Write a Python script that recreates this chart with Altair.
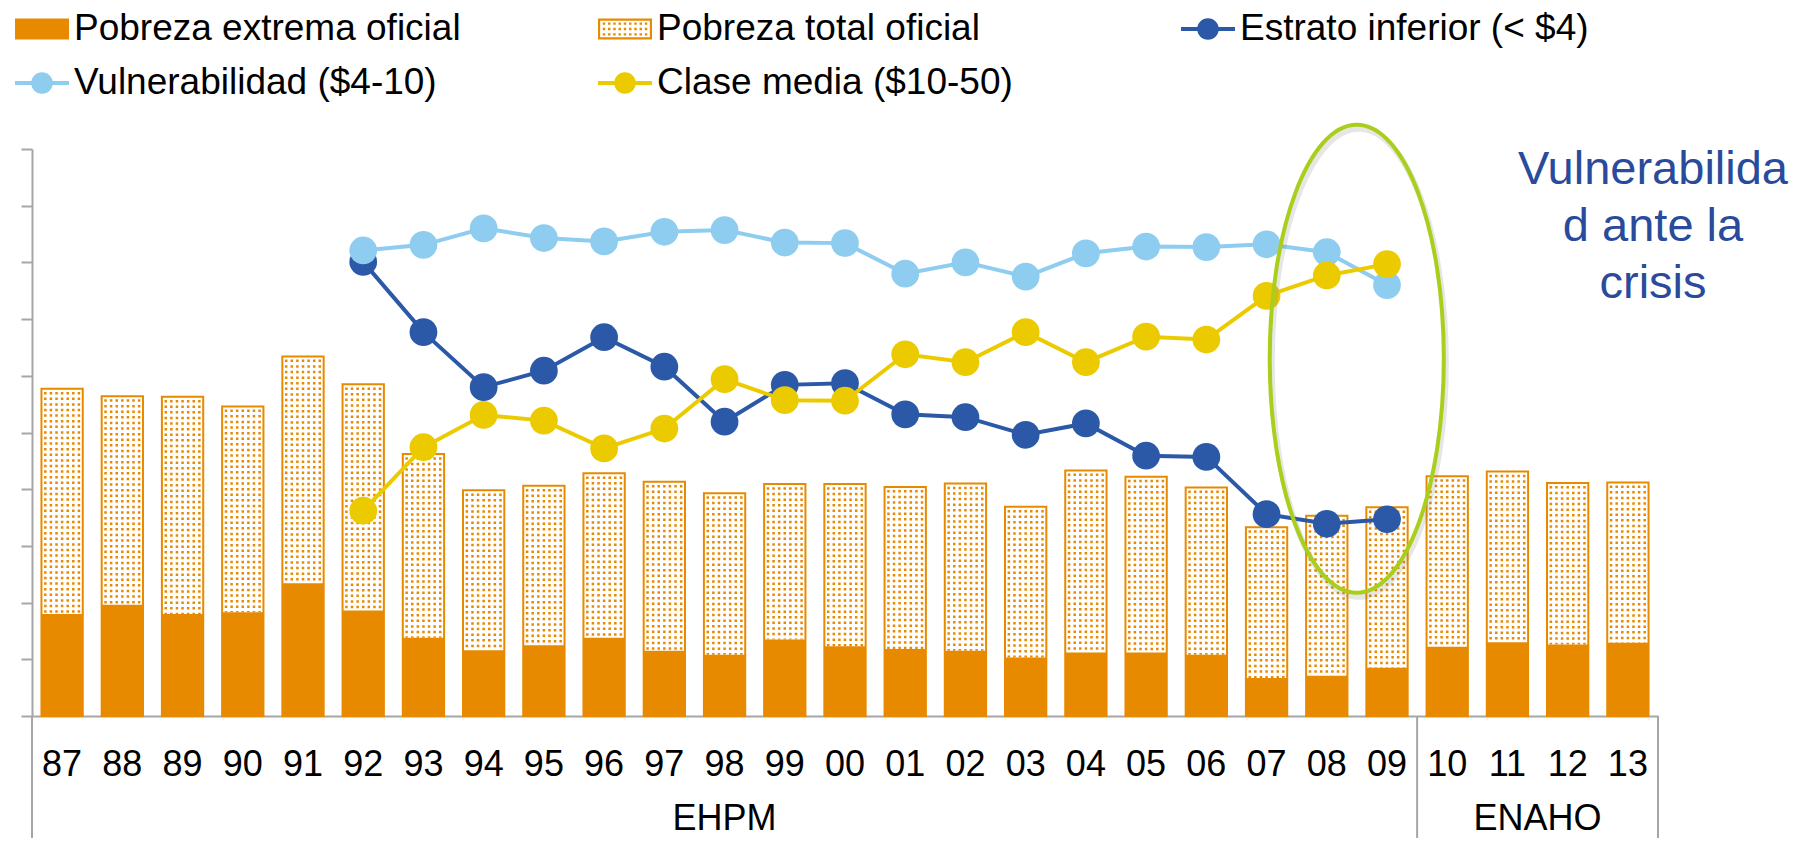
import altair as alt
import pandas as pd

# ---------------- data ----------------
years = ["87", "88", "89", "90", "91", "92", "93", "94", "95", "96", "97", "98", "99",
         "00", "01", "02", "03", "04", "05", "06", "07", "08", "09", "10", "11", "12", "13"]
pobreza_extrema = [18.0, 19.6, 18.0, 18.3, 23.4, 18.6, 13.8, 11.6, 12.5, 13.8, 11.5, 10.8, 13.5,
                   12.3, 11.8, 11.5, 10.3, 11.2, 11.2, 10.8, 6.7, 7.1, 8.5, 12.2, 13.0, 12.6, 12.9]
pobreza_total = [57.7, 56.4, 56.3, 54.6, 63.4, 58.5, 46.2, 39.8, 40.6, 42.8, 41.3, 39.3, 40.9,
                 40.9, 40.4, 41.0, 36.9, 43.3, 42.2, 40.3, 33.3, 35.3, 36.8, 42.3, 43.1, 41.1, 41.2]

line_years = ["92", "93", "94", "95", "96", "97", "98", "99", "00", "01", "02", "03", "04",
              "05", "06", "07", "08", "09"]
estrato_inferior = [80.1, 67.7, 58.0, 60.9, 66.8, 61.6, 51.9, 58.4, 58.7, 53.2, 52.7, 49.6, 51.6,
                    45.9, 45.7, 35.6, 33.9, 34.7]
vulnerabilidad = [82.1, 83.1, 86.0, 84.3, 83.7, 85.4, 85.7, 83.5, 83.4, 78.0, 80.0, 77.5, 81.6,
                  82.8, 82.7, 83.2, 81.8, 76.0]
clase_media = [36.2, 47.4, 53.1, 52.1, 47.2, 50.7, 59.4, 55.7, 55.6, 63.8, 62.4, 67.7, 62.4,
               66.9, 66.4, 74.1, 77.7, 79.7]

series_names = ["Pobreza extrema oficial", "Pobreza total oficial", "Estrato inferior (< $4)",
                "Vulnerabilidad ($4-10)", "Clase media ($10-50)"]

group_names = ["EHPM", "ENAHO"]
group_start = [0, 23]
group_end = [23, 27]

annotation_lines = ["Vulnerabilida", "d ante la", "crisis"]
highlight_year = ["08"]
highlight_value = [63.0]

# ---------------- style ----------------
W, H = 1626, 567
ORANGE = "#E88A00"
DARK = "#2B59A8"
LIGHT = "#8ECCF0"
YELLOW = "#EBCB00"
GREEN = "#A9CF1C"
TXT_BLUE = "#2A4B9B"
GRAY = "#A6A6A6"
FONT = "Liberation Sans, Arial, sans-serif"


def rect(x0, y0, x1, y1):
    return f"M{x0},{y0}H{x1}V{y1}H{x0}Z"


# legend symbol paths (unit square -1..1, scaled by symbol size)
path_extrema = rect(-1, -0.39, 1, 0.39)
dot_xs = [round(-0.78 + 0.195 * k, 3) for k in range(9)]
dot_ys = [-0.2, 0.0, 0.2]
d = 0.045
path_total = (rect(-1, -0.39, 1, 0.39) + "M-0.92,-0.31V0.31H0.92V-0.31Z" +
              "".join(rect(round(x - d, 3), round(y - d, 3), round(x + d, 3), round(y + d, 3))
                      for x in dot_xs for y in dot_ys))
path_line = rect(-1, -0.075, 1, 0.075) + "M0.4,0A0.4,0.4,0,1,1,-0.4,0A0.4,0.4,0,1,1,0.4,0Z"
ellipse_path = "M0,-1A0.372,1,0,1,1,0,1A0.372,1,0,1,1,0,-1Z"

# ---------------- frames ----------------
bars_df = pd.DataFrame({"year": years, "extrema": pobreza_extrema, "total": pobreza_total})
lines_df = pd.DataFrame({"year": line_years, "estrato": estrato_inferior,
                         "vuln": vulnerabilidad, "media": clase_media})
legend_df = pd.DataFrame({"serie": series_names})
grp_df = pd.DataFrame({"grupo": group_names, "inicio": group_start, "fin": group_end})
sep_df = pd.DataFrame({"limite": group_start + [group_end[-1]]})
ell_df = pd.DataFrame({"year": highlight_year, "value": highlight_value})
ann_df = pd.DataFrame({"k": [0]})

xscale = alt.Scale(domain=years, paddingInner=0.314, paddingOuter=0.157)
yscale = alt.Scale(domain=[0, 100], nice=False, zero=True)

x_axis = alt.Axis(title=None, labelAngle=0, labelFontSize=36, labelFont=FONT, labelColor="black",
                  ticks=False, tickSize=0, labelPadding=31, domainColor=GRAY, domainWidth=2,
                  labelBaseline="top", labelOverlap=False, grid=False)
y_axis = alt.Axis(title=None, labels=False, values=list(range(0, 101, 10)), ticks=True, tickSize=11,
                  tickColor=GRAY, tickWidth=2, domainColor=GRAY, domainWidth=2, grid=False)

X = alt.X("year:N", scale=xscale, sort=None, axis=x_axis)

total_bar = alt.Chart(bars_df).mark_bar(fill="white", stroke=ORANGE, strokeWidth=2).encode(
    x=X, y=alt.Y("total:Q", scale=yscale, axis=y_axis))

dot_offsets = [-16.8, -11.2, -5.6, 0.0, 5.6, 11.2, 16.8]
dot_layers = [
    alt.Chart(bars_df).mark_rule(stroke=ORANGE, strokeWidth=2.5, strokeDash=[2.5, 3.1],
                                 strokeDashOffset=2.5, xOffset=dx).encode(
        x=X, y=alt.Y("total:Q", scale=yscale), y2="extrema:Q")
    for dx in dot_offsets
]

extreme_bar = alt.Chart(bars_df).mark_bar(color=ORANGE).encode(
    x=X, y=alt.Y("extrema:Q", scale=yscale))

line_layers = []
for col, colr in [("estrato", DARK), ("vuln", LIGHT), ("media", YELLOW)]:
    line_layers.append(alt.Chart(lines_df).mark_line(color=colr, strokeWidth=4).encode(
        x=X, y=alt.Y(f"{col}:Q", scale=yscale)))
    line_layers.append(alt.Chart(lines_df).mark_point(filled=True, size=770, color=colr, opacity=1).encode(
        x=X, y=alt.Y(f"{col}:Q", scale=yscale)))

ell_shadow = alt.Chart(ell_df).mark_point(shape=ellipse_path, size=219024, filled=False, color="#777777",
                                          strokeWidth=6, opacity=0.18, xOffset=32, yOffset=4).encode(
    x=X, y=alt.Y("value:Q", scale=yscale))
ellipse = alt.Chart(ell_df).mark_point(shape=ellipse_path, size=219024, filled=False, color=GREEN,
                                       strokeWidth=4, opacity=1, xOffset=30).encode(
    x=X, y=alt.Y("value:Q", scale=yscale))

annotation = alt.Chart(ann_df).mark_text(text=annotation_lines, font=FONT, fontSize=47, color=TXT_BLUE,
                                         align="center", baseline="alphabetic", lineHeight=57).encode(
    x=alt.value(1621), y=alt.value(35))

legend = alt.Legend(title=None, orient="none", legendX=-17, legendY=-147, columns=3, direction="horizontal",
                    gridAlign="all", columnPadding=137, rowPadding=9, padding=0, symbolSize=2916,
                    symbolStrokeWidth=0, symbolOpacity=1, labelFontSize=37, labelFont=FONT,
                    labelColor="black", labelOffset=5, labelLimit=1000)
legend_layer = alt.Chart(legend_df).mark_point(filled=True, size=2916, opacity=1).encode(
    x=alt.value(-400), y=alt.value(-400),
    color=alt.Color("serie:N", scale=alt.Scale(domain=series_names,
                                               range=[ORANGE, ORANGE, DARK, LIGHT, YELLOW]),
                    legend=legend),
    shape=alt.Shape("serie:N", scale=alt.Scale(domain=series_names,
                                               range=[path_extrema, path_total, path_line, path_line, path_line]),
                    legend=legend),
)

main = alt.layer(total_bar, *dot_layers, extreme_bar, *line_layers, ell_shadow, ellipse,
                 annotation, legend_layer)

gx = alt.Scale(domain=[0, 27], nice=False, zero=False)
sep_rules = alt.Chart(sep_df).mark_rule(color=GRAY, strokeWidth=2).encode(
    x=alt.X("limite:Q", scale=gx, axis=None), y=alt.value(H), y2=alt.value(H + 122))
grp_text = alt.Chart(grp_df).transform_calculate(mid="(datum.inicio + datum.fin) / 2").mark_text(
    font=FONT, fontSize=36, color="black", align="center", baseline="alphabetic").encode(
    x=alt.X("mid:Q", scale=gx, axis=None), y=alt.value(681), text="grupo:N")
groups = alt.layer(sep_rules, grp_text)

chart = alt.layer(main, groups).resolve_scale(x="independent").properties(
    width=W, height=H,
    padding={"left": 24, "top": 141, "right": 131, "bottom": 122},
    autosize=alt.AutoSizeParams(type="none"),
    background="white",
).configure_view(stroke=None)

chart.save("out.html", embed_options={"renderer": "svg", "actions": False})
